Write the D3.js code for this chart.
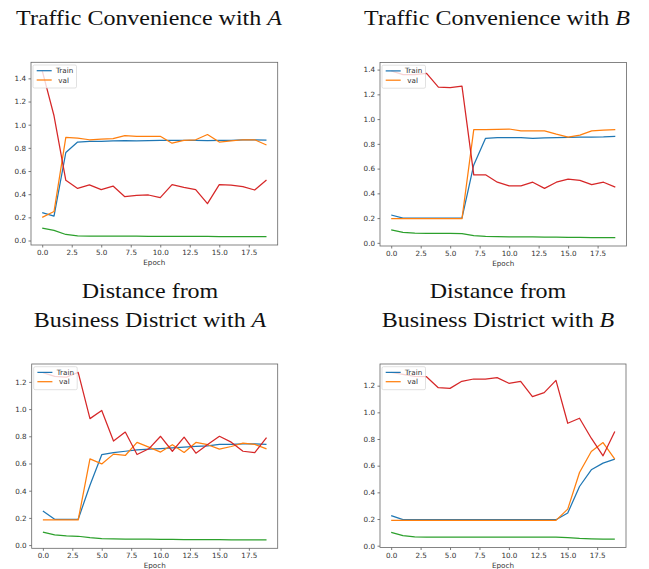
<!DOCTYPE html>
<html>
<head>
<meta charset="utf-8">
<script src="https://cdn.jsdelivr.net/npm/d3@7"></script>
<style>
  body { margin: 0; background: #fff; }
  svg { display: block; }
  .tick text { font-family: "DejaVu Sans", sans-serif; font-size: 7.2px; fill: #333; }
  .tick line { stroke: #444; stroke-width: 0.7; }
</style>
</head>
<body>
<svg id="chart" width="649" height="569"></svg>
<script>
// ---------- data ----------
const epochs = d3.range(20);
const xTickValues = [0, 2.5, 5, 7.5, 10, 12.5, 15, 17.5];
const yTicks14 = [0, 0.2, 0.4, 0.6, 0.8, 1.0, 1.2, 1.4];
const yTicks12 = [0, 0.2, 0.4, 0.6, 0.8, 1.0, 1.2];
const legendLabels = ["Train", " val"];

// Traffic Convenience with A
const tcA_train = [0.24,0.21,0.76,0.85,0.855,0.857,0.86,0.862,0.86,0.862,0.865,0.865,0.865,0.865,0.862,0.865,0.865,0.868,0.868,0.866];
const tcA_val   = [0.20,0.25,0.89,0.885,0.87,0.875,0.88,0.905,0.90,0.90,0.90,0.84,0.865,0.87,0.915,0.85,0.86,0.87,0.87,0.825];
const tcA_trainLoss = [0.107,0.087,0.052,0.041,0.039,0.038,0.038,0.037,0.037,0.036,0.036,0.036,0.035,0.035,0.035,0.034,0.034,0.034,0.033,0.033];
const tcA_valLoss   = [1.467,1.077,0.52,0.45,0.48,0.44,0.47,0.378,0.39,0.393,0.37,0.482,0.459,0.44,0.318,0.482,0.479,0.465,0.436,0.522];

// Traffic Convenience with B
const tcB_train = [0.225,0.20,0.20,0.20,0.20,0.20,0.20,0.63,0.845,0.85,0.85,0.85,0.845,0.848,0.85,0.852,0.855,0.855,0.856,0.86];
const tcB_val   = [0.195,0.195,0.195,0.195,0.195,0.195,0.195,0.915,0.915,0.918,0.92,0.905,0.905,0.905,0.878,0.855,0.87,0.905,0.91,0.915];
const tcB_trainLoss = [0.105,0.084,0.078,0.077,0.076,0.076,0.075,0.059,0.052,0.05,0.049,0.048,0.048,0.047,0.046,0.045,0.044,0.043,0.043,0.042];
const tcB_valLoss   = [1.39,1.36,1.36,1.37,1.259,1.254,1.267,0.55,0.55,0.49,0.46,0.46,0.49,0.44,0.49,0.515,0.505,0.47,0.49,0.45];

// Distance from Business District with A
const dbA_train = [0.25,0.19,0.19,0.19,0.44,0.665,0.68,0.69,0.70,0.705,0.71,0.715,0.72,0.725,0.73,0.74,0.74,0.745,0.745,0.74];
const dbA_val   = [0.185,0.185,0.185,0.185,0.634,0.597,0.669,0.659,0.755,0.72,0.684,0.738,0.681,0.755,0.738,0.706,0.725,0.75,0.74,0.708];
const dbA_trainLoss = [0.095,0.075,0.068,0.065,0.055,0.047,0.045,0.044,0.043,0.043,0.042,0.042,0.041,0.041,0.040,0.040,0.039,0.039,0.038,0.038];
const dbA_valLoss   = [1.268,1.24,1.235,1.27,0.93,0.99,0.765,0.831,0.666,0.708,0.80,0.69,0.794,0.676,0.74,0.80,0.757,0.69,0.68,0.79];

// Distance from Business District with B
const dbB_train = [0.225,0.195,0.195,0.195,0.195,0.195,0.195,0.195,0.195,0.195,0.195,0.195,0.195,0.195,0.195,0.245,0.444,0.569,0.619,0.649];
const dbB_val   = [0.19,0.19,0.19,0.19,0.19,0.19,0.19,0.19,0.19,0.19,0.19,0.19,0.19,0.19,0.19,0.274,0.549,0.706,0.773,0.649];
const dbB_trainLoss = [0.10,0.075,0.067,0.065,0.065,0.065,0.065,0.065,0.065,0.065,0.065,0.065,0.065,0.065,0.064,0.06,0.055,0.052,0.05,0.049];
const dbB_valLoss   = [1.30,1.285,1.27,1.267,1.185,1.18,1.233,1.25,1.25,1.26,1.218,1.233,1.118,1.148,1.24,0.918,0.956,0.806,0.674,0.856];

const titleLines1 = [["Traffic Convenience with ", "A"]];
const titleLines2 = [["Traffic Convenience with ", "B"]];
const titleLines3 = [["Distance from", ""], ["Business District with ", "A"]];
const titleLines4 = [["Distance from", ""], ["Business District with ", "B"]];

// ---------- layout ----------
const colors = { train: "#1f77b4", val: "#ff7f0e", trainLoss: "#2ca02c", valLoss: "#d62728" };
const panels = [
  { left: 31, right: 277.7, top: 62.3, bottom: 245, yTicks: yTicks14, titleX: 149, titleY: 25,
    title: titleLines1, series: [tcA_train, tcA_val, tcA_trainLoss, tcA_valLoss] },
  { left: 380, right: 626.5, top: 62.5, bottom: 246, yTicks: yTicks14, titleX: 497, titleY: 25,
    title: titleLines2, series: [tcB_train, tcB_val, tcB_trainLoss, tcB_valLoss] },
  { left: 31.7, right: 277.7, top: 364, bottom: 548.3, yTicks: yTicks12, titleX: 150, titleY: 298,
    title: titleLines3, series: [dbA_train, dbA_val, dbA_trainLoss, dbA_valLoss] },
  { left: 380, right: 626, top: 364, bottom: 547.5, yTicks: yTicks12, titleX: 498, titleY: 298,
    title: titleLines4, series: [dbB_train, dbB_val, dbB_trainLoss, dbB_valLoss] }
];
const seriesColors = [colors.train, colors.val, colors.trainLoss, colors.valLoss];

const svg = d3.select("#chart");
svg.append("rect").attr("width", 649).attr("height", 569).attr("fill", "#fff");

panels.forEach(p => {
  // title
  const tg = svg.append("g").attr("transform", `translate(${p.titleX},${p.titleY}) scale(1.2,1)`);
  p.title.forEach((line, i) => {
    const t = tg.append("text")
      .attr("y", i * 29)
      .attr("text-anchor", "middle")
      .attr("font-family", "'Liberation Serif', 'Times New Roman', serif")
      .attr("font-size", 20)
      .attr("fill", "#111")
      .style("white-space", "pre");
    t.append("tspan").text(line[0]);
    if (line[1]) t.append("tspan").attr("font-style", "italic").text(line[1]);
  });

  // scales with matplotlib-like 5% margins
  const xMin = d3.min(epochs), xMax = d3.max(epochs);
  const xPad = (xMax - xMin) * 0.05;
  const x = d3.scaleLinear().domain([xMin - xPad, xMax + xPad]).range([p.left, p.right]);
  const allVals = p.series.flat();
  const yMin = d3.min(allVals), yMax = d3.max(allVals);
  const yPad = (yMax - yMin) * 0.05;
  const y = d3.scaleLinear().domain([yMin - yPad, yMax + yPad]).range([p.bottom, p.top]);

  // lines
  const line = d3.line().x((d, i) => x(epochs[i])).y(d => y(d));
  const plot = svg.append("g");
  p.series.forEach((s, k) => {
    plot.append("path").datum(s)
      .attr("d", line)
      .attr("fill", "none")
      .attr("stroke", seriesColors[k])
      .attr("stroke-width", 1.25)
      .attr("stroke-linejoin", "round");
  });

  // axes
  const xAxis = svg.append("g").attr("transform", `translate(0,${p.bottom})`)
    .call(d3.axisBottom(x).tickValues(xTickValues).tickFormat(d3.format(".1f")).tickSize(2.5).tickPadding(2.5));
  xAxis.select(".domain").remove();
  const yAxis = svg.append("g").attr("transform", `translate(${p.left},0)`)
    .call(d3.axisLeft(y).tickValues(p.yTicks).tickFormat(d3.format(".1f")).tickSize(2.5).tickPadding(2.5));
  yAxis.select(".domain").remove();

  // frame
  svg.append("rect")
    .attr("x", p.left).attr("y", p.top)
    .attr("width", p.right - p.left).attr("height", p.bottom - p.top)
    .attr("fill", "none").attr("stroke", "#666").attr("stroke-width", 0.8);

  // x label
  svg.append("text")
    .attr("x", (p.left + p.right) / 2).attr("y", p.bottom + 20)
    .attr("text-anchor", "middle")
    .attr("font-family", "'DejaVu Sans', sans-serif")
    .attr("font-size", 7.2).attr("fill", "#333")
    .text("Epoch");

  // legend
  const lg = svg.append("g").attr("transform", `translate(${p.left + 2},${p.top + 2.7})`);
  lg.append("rect").attr("width", 43.5).attr("height", 23).attr("rx", 1.5)
    .attr("fill", "#fff").attr("fill-opacity", 0.8)
    .attr("stroke", "#ccc").attr("stroke-width", 0.6);
  legendLabels.forEach((lab, i) => {
    const yy = 5.7 + i * 9.3;
    lg.append("line").attr("x1", 3.7).attr("x2", 18.7).attr("y1", yy).attr("y2", yy)
      .attr("stroke", seriesColors[i]).attr("stroke-width", 1.25);
    lg.append("text").attr("x", 23).attr("y", yy + 2.5)
      .attr("font-family", "'DejaVu Sans', sans-serif")
      .attr("font-size", 7.2).attr("fill", "#333")
      .style("white-space", "pre")
      .text(lab);
  });
});
</script>
</body>
</html>
